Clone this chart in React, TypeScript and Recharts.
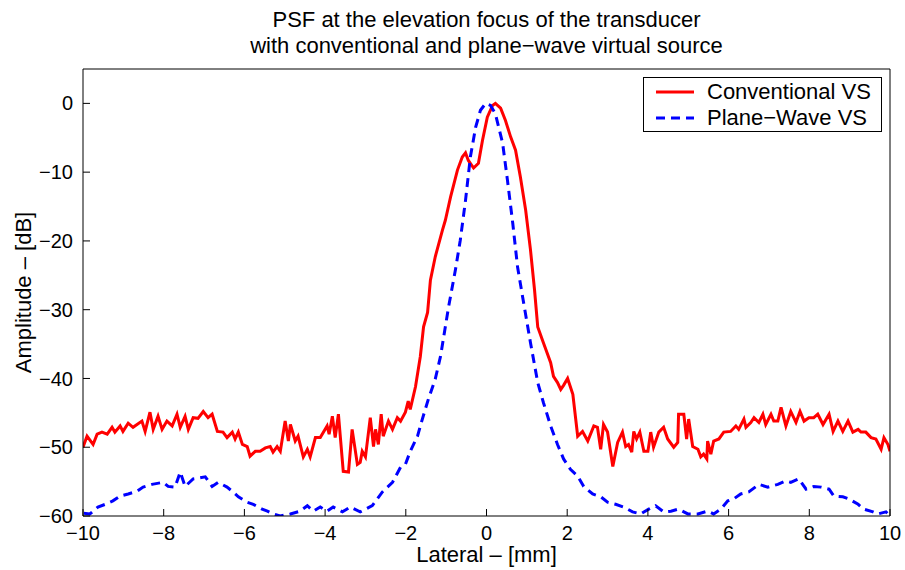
import { LineChart, Line, XAxis, YAxis, Legend } from "recharts";

const conventionalX = [
  -10.0, -9.9, -9.75, -9.65, -9.53, -9.4, -9.28, -9.21, -9.08, -9.01, -8.88, -8.76, -8.54, -8.46, -8.34,
  -8.26, -8.14, -8.04, -7.92, -7.79, -7.67, -7.59, -7.47, -7.39, -7.27, -7.15, -7.02, -6.9, -6.8, -6.67,
  -6.53, -6.43, -6.3, -6.23, -6.15, -6.05, -5.93, -5.86, -5.73, -5.61, -5.48, -5.36, -5.29, -5.19, -5.11,
  -4.99, -4.91, -4.86, -4.74, -4.67, -4.54, -4.44, -4.37, -4.24, -4.12, -3.95, -3.9, -3.82, -3.75, -3.67,
  -3.55, -3.42, -3.33, -3.2, -3.13, -3.08, -3.0, -2.88, -2.8, -2.75, -2.68, -2.61, -2.56, -2.43, -2.33,
  -2.21, -2.13, -2.01, -1.94, -1.89, -1.76, -1.64, -1.56, -1.46, -1.39, -1.27, -1.09, -1.02, -0.89, -0.72,
  -0.6, -0.52, -0.45, -0.32, -0.2, -0.1, 0.02, 0.15, 0.22, 0.35, 0.47, 0.6, 0.72, 0.84, 0.97,
  1.09, 1.19, 1.27, 1.41, 1.59, 1.66, 1.76, 1.84, 1.91, 2.01, 2.14, 2.26, 2.38, 2.51, 2.66,
  2.75, 2.83, 2.9, 3.0, 3.13, 3.25, 3.37, 3.45, 3.52, 3.6, 3.65, 3.72, 3.8, 3.9, 4.0,
  4.07, 4.14, 4.27, 4.39, 4.49, 4.64, 4.74, 4.76, 4.89, 4.96, 5.01, 5.11, 5.24, 5.31, 5.38,
  5.46, 5.48, 5.56, 5.63, 5.76, 5.88, 6.05, 6.18, 6.25, 6.38, 6.43, 6.55, 6.63, 6.75, 6.85,
  6.92, 7.05, 7.12, 7.22, 7.3, 7.42, 7.54, 7.67, 7.77, 7.87, 7.99, 8.11, 8.21, 8.34, 8.49,
  8.59, 8.71, 8.83, 8.96, 9.08, 9.21, 9.28, 9.4, 9.53, 9.65, 9.78, 9.85, 9.95, 10.0,
];
const conventionalDb = [
  -50.0, -48.4, -49.6, -48.1, -47.8, -48.1, -47.1, -47.8, -46.9, -47.7, -46.5, -47.1, -46.2, -47.7, -44.9,
  -47.4, -45.5, -47.4, -46.2, -46.9, -45.2, -47.1, -45.5, -47.4, -45.7, -45.8, -44.8, -45.7, -45.2, -47.7,
  -47.8, -48.6, -47.8, -48.8, -47.8, -49.6, -49.9, -51.3, -50.6, -50.6, -50.1, -49.9, -50.7, -49.9, -50.6,
  -46.2, -49.1, -46.7, -49.1, -48.4, -51.4, -50.3, -51.4, -48.6, -48.6, -46.9, -48.1, -45.5, -48.6, -45.2,
  -53.5, -53.6, -47.4, -52.5, -52.2, -50.6, -51.4, -45.7, -49.9, -47.4, -49.6, -45.2, -48.4, -46.2, -47.4,
  -45.7, -46.2, -44.9, -43.3, -44.5, -41.2, -36.8, -32.5, -30.4, -25.7, -22.3, -18.4, -17.0, -13.6, -9.7,
  -7.8, -7.2, -8.3, -9.4, -8.7, -5.4, -2.0, -0.3, 0, -0.7, -2.5, -4.9, -6.8, -10.7, -15.5,
  -21.3, -27.1, -32.5, -34.8, -37.7, -39.7, -40.6, -41.6, -41.0, -40.0, -42.3, -48.4, -47.7, -49.1, -46.9,
  -47.1, -50.3, -46.7, -47.8, -52.8, -49.3, -47.8, -49.9, -49.6, -50.7, -47.7, -48.8, -47.8, -50.6, -50.6,
  -47.8, -50.0, -47.8, -47.1, -48.8, -50.0, -49.3, -45.2, -45.2, -48.8, -45.9, -49.9, -50.3, -51.4, -51.0,
  -51.7, -49.1, -51.0, -49.1, -48.8, -47.8, -47.7, -46.9, -47.4, -45.9, -47.1, -46.4, -45.7, -46.4, -45.2,
  -46.7, -45.2, -46.2, -46.2, -44.2, -46.9, -44.8, -46.4, -44.8, -46.2, -45.7, -45.7, -45.2, -46.7, -45.2,
  -47.7, -46.2, -47.7, -46.2, -47.8, -47.4, -47.8, -47.8, -48.6, -48.8, -50.3, -48.6, -49.6, -50.6,
];

const planeWaveX = [
  -9.98, -9.83, -9.63, -9.45, -9.26, -9.08, -8.88, -8.66, -8.51, -8.29, -8.01, -7.89, -7.72, -7.59, -7.47,
  -7.27, -7.15, -6.97, -6.8, -6.65, -6.43, -6.28, -6.15, -5.93, -5.78, -5.56, -5.43, -5.29, -5.11, -4.86,
  -4.62, -4.44, -4.29, -4.12, -3.95, -3.8, -3.57, -3.38, -3.13, -2.83, -2.58, -2.33, -2.13, -2.01, -1.89,
  -1.71, -1.59, -1.44, -1.27, -1.14, -0.94, -0.77, -0.65, -0.52, -0.4, -0.27, -0.15, -0.02, 0.1, 0.22,
  0.4, 0.52, 0.65, 0.77, 0.92, 1.09, 1.27, 1.41, 1.59, 1.76, 1.91, 2.08, 2.26, 2.41, 2.63,
  2.83, 3.0, 3.2, 3.4, 3.62, 3.82, 4.02, 4.19, 4.39, 4.57, 4.76, 4.99, 5.24, 5.48, 5.63,
  5.81, 5.98, 6.13, 6.3, 6.5, 6.75, 6.97, 7.22, 7.42, 7.54, 7.74, 7.92, 8.11, 8.29, 8.49,
  8.61, 8.83, 8.98, 9.21, 9.35, 9.58, 9.7, 9.9, 10.0,
];
const planeWaveDb = [
  -59.6, -59.7, -58.7, -58.3, -57.8, -57.1, -56.8, -56.4, -55.8, -55.4, -55.1, -55.7, -55.8, -53.6, -55.7,
  -54.6, -54.5, -54.3, -55.7, -55.1, -55.8, -56.5, -57.2, -58.0, -58.3, -59.0, -59.3, -59.7, -60.0, -59.7,
  -59.3, -58.5, -59.3, -58.7, -59.3, -58.7, -59.4, -58.7, -59.4, -58.5, -56.5, -55.1, -52.9, -52.5, -50.6,
  -48.4, -45.9, -43.0, -40.1, -36.8, -29.6, -24.2, -19.9, -14.1, -7.8, -3.5, -1.0, 0, -0.3, -1.5,
  -5.8, -11.2, -17.4, -23.8, -29.0, -34.8, -40.6, -43.5, -46.9, -49.6, -51.7, -53.2, -54.2, -55.7, -56.8,
  -57.2, -58.0, -58.3, -58.7, -59.4, -59.7, -59.0, -58.5, -59.4, -59.3, -59.0, -59.7, -59.7, -59.3, -59.7,
  -59.0, -57.8, -57.5, -56.8, -56.5, -55.4, -55.8, -55.4, -54.9, -55.1, -54.6, -56.1, -55.7, -55.8, -56.1,
  -57.1, -57.2, -57.5, -58.3, -59.0, -59.4, -59.7, -59.4, -60.0,
];

const xTicks = [-10, -8, -6, -4, -2, 0, 2, 4, 6, 8, 10];
const yTicks = [-60, -50, -40, -30, -20, -10, 0];

const seriesNames = ["Conventional VS", "Plane\u2212Wave VS"];
const titleLines = ["PSF at the elevation focus of the transducer", "with conventional and plane\u2212wave virtual source"];

const conventionalData = conventionalX.map((x, i) => ({ x, db: conventionalDb[i] }));
const planeWaveData = planeWaveX.map((x, i) => ({ x, db: planeWaveDb[i] }));

const FONT = '"Liberation Sans", Arial, Helvetica, sans-serif';
const fmt = (v: number) => String(v).replace("-", "\u2212");

const LegendBox = () => (
  <div
    style={{
      width: 237,
      height: 53,
      border: "1px solid #000",
      background: "#fff",
      fontFamily: FONT,
      fontSize: 22,
      color: "#000",
      position: "relative",
    }}
  >
    {seriesNames.map((name, i) => (
      <div key={name} style={{ position: "absolute", left: 12, top: 1 + i * 26, height: 26, display: "flex", alignItems: "center" }}>
        <svg width={38} height={6} style={{ marginRight: 13 }}>
          <line
            x1={0}
            y1={3}
            x2={38}
            y2={3}
            stroke={i === 0 ? "#ff0000" : "#0000ff"}
            strokeWidth={3}
            strokeDasharray={i === 0 ? undefined : "9 6"}
          />
        </svg>
        <span style={{ lineHeight: "26px" }}>{name}</span>
      </div>
    ))}
  </div>
);

export default function App() {
  return (
    <div style={{ position: "absolute", left: 0, top: 0, width: 905, height: 570, background: "#fff" }}>
      <div
        style={{
          position: "absolute",
          left: 83,
          width: 807,
          top: 7,
          textAlign: "center",
          fontFamily: FONT,
          fontSize: 22,
          lineHeight: "26px",
          color: "#000",
        }}
      >
        {titleLines.map((t) => (
          <div key={t}>{t}</div>
        ))}
      </div>
      <LineChart width={905} height={570} margin={{ top: 68, right: 14, bottom: 14, left: 23 }}>
        <XAxis
          dataKey="x"
          type="number"
          domain={[-10, 10]}
          ticks={xTicks}
          allowDataOverflow
          height={40}
          tickSize={-7}
          tickMargin={17}
          tickFormatter={fmt}
          stroke="#000"
          tick={{ fill: "#000", fontSize: 20, fontFamily: FONT }}
          label={{ value: "Lateral \u2013 [mm]", position: "insideBottom", offset: -6, fill: "#000", fontSize: 22, fontFamily: FONT }}
        />
        <XAxis
          xAxisId="top"
          dataKey="x"
          type="number"
          orientation="top"
          domain={[-10, 10]}
          ticks={xTicks}
          allowDataOverflow
          height={1}
          tickSize={-7}
          tick={false}
          stroke="#000"
        />
        <YAxis
          dataKey="db"
          type="number"
          domain={[-60, 5]}
          ticks={yTicks}
          allowDataOverflow
          width={60}
          tickSize={-7}
          tickMargin={17}
          tickFormatter={fmt}
          stroke="#000"
          tick={{ fill: "#000", fontSize: 20, fontFamily: FONT }}
          label={{
            value: "Amplitude \u2013 [dB]",
            angle: -90,
            position: "insideLeft",
            offset: 0,
            fill: "#000",
            fontSize: 22,
            fontFamily: FONT,
            style: { textAnchor: "middle" },
          }}
        />
        <YAxis
          yAxisId="right"
          dataKey="db"
          type="number"
          orientation="right"
          domain={[-60, 5]}
          ticks={yTicks}
          allowDataOverflow
          width={1}
          tickSize={-7}
          tick={false}
          stroke="#000"
        />
        <Legend
          layout="vertical"
          verticalAlign="middle"
          align="center"
          wrapperStyle={{ position: "absolute", left: 643, top: 77, width: 239, height: 55 }}
          content={() => <LegendBox />}
        />
        <Line
          data={conventionalData}
          dataKey="db"
          name={seriesNames[0]}
          type="linear"
          stroke="#ff0000"
          strokeWidth={3}
          dot={false}
          isAnimationActive={false}
        />
        <Line
          data={planeWaveData}
          dataKey="db"
          name={seriesNames[1]}
          type="linear"
          stroke="#0000ff"
          strokeWidth={3}
          strokeDasharray="9 6"
          dot={false}
          isAnimationActive={false}
        />
      </LineChart>
    </div>
  );
}
